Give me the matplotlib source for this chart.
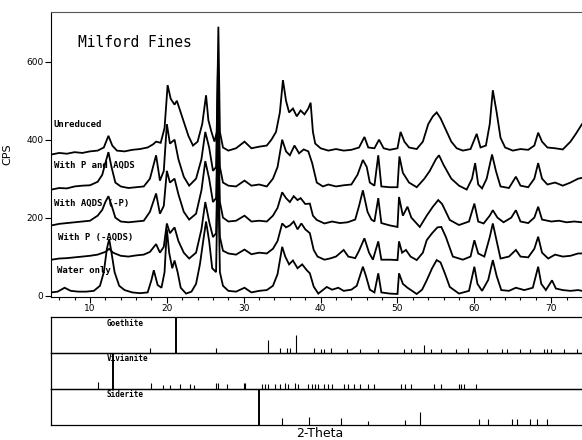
import matplotlib
matplotlib.use("Agg")
import matplotlib.pyplot as plt
from matplotlib.ticker import MultipleLocator

# ---------------- data ----------------
unreduced_x = [5.0, 6.0, 7.0, 8.0, 9.0, 10.0, 11.0, 11.8, 12.4, 12.9, 13.5, 14.5, 15.5, 16.5, 17.5, 18.2, 18.6, 19.2, 19.7, 20.1, 20.5, 21.0, 21.3, 21.8, 22.3, 22.8, 23.4, 24.0, 24.6, 25.1, 25.4, 25.8, 26.2, 26.5, 26.7, 26.9, 27.3, 28.0, 29.0, 30.1, 31.0, 32.0, 33.0, 33.6, 34.2, 34.7, 35.1, 35.5, 35.9, 36.4, 36.9, 37.4, 37.9, 38.4, 38.7, 39.0, 39.3, 40.0, 41.0, 42.0, 43.0, 44.0, 45.0, 45.7, 46.2, 47.0, 47.6, 48.2, 49.0, 50.0, 50.4, 50.9, 51.5, 52.5, 53.3, 54.0, 54.6, 55.1, 55.6, 56.3, 57.0, 57.7, 58.5, 59.5, 60.3, 60.8, 61.5, 62.0, 62.4, 62.9, 63.4, 64.0, 65.0, 66.0, 67.0, 67.8, 68.3, 68.8, 69.5, 70.5, 71.5, 72.5, 73.2, 74.0]
unreduced_y = [362, 366, 364, 368, 366, 370, 372, 380, 410, 385, 372, 370, 374, 376, 380, 388, 395, 392, 430, 540, 505, 490, 500, 470, 440, 410, 385, 395, 440, 514, 450, 420, 395, 420, 690, 420, 380, 372, 378, 395, 378, 382, 385, 400, 420, 470, 553, 500, 470, 480, 460, 475, 465, 480, 495, 420, 390, 378, 372, 376, 372, 374, 380, 407, 380, 378, 400, 378, 374, 378, 420, 395, 380, 376, 395, 440, 460, 470, 455, 425, 395, 378, 372, 376, 415, 380, 385, 440, 527, 470, 405, 380, 372, 376, 374, 385, 418, 395, 380, 378, 375, 395, 415, 440]

p_aqds_x = [5.0, 6.0, 7.0, 8.0, 9.0, 10.0, 11.0, 11.6, 12.0, 12.4, 12.8, 13.3, 14.0, 15.0, 16.0, 17.0, 17.8, 18.6, 19.1, 19.6, 20.0, 20.4, 21.0, 21.5, 22.2, 22.9, 23.8, 24.5, 25.0, 25.5, 26.0, 26.4, 26.65, 26.9, 27.3, 28.0, 29.0, 30.1, 31.0, 32.0, 33.0, 33.8, 34.4, 35.0, 35.5, 36.0, 36.6, 37.2, 37.8, 38.4, 38.9, 39.5, 40.3, 41.0, 42.0, 43.0, 44.0, 44.8, 45.5, 46.0, 46.4, 47.0, 47.5, 47.9, 49.0, 50.0, 50.25, 50.7, 51.5, 52.5, 53.5, 54.2, 55.0, 55.4, 56.0, 57.0, 58.0, 59.0, 59.7, 60.1, 60.5, 61.0, 61.6, 62.3, 62.8, 63.4, 64.5, 65.4, 66.0, 67.0, 67.8, 68.3, 68.8, 69.5, 70.5, 71.5, 72.5, 73.5, 74.0]
p_aqds_y = [272, 276, 275, 280, 282, 283, 292, 310, 340, 368, 330, 290, 280, 276, 278, 280, 300, 360, 295, 320, 440, 390, 400, 350, 305, 282, 300, 350, 420, 380, 320, 330, 600, 330, 290, 282, 280, 295, 282, 285, 280, 300, 330, 400, 370, 360, 385, 365, 375, 370, 340, 290, 280, 285, 280, 283, 285, 310, 348, 330, 290, 282, 360, 280, 278, 278, 357, 315, 290, 278, 300, 320, 350, 360, 335, 300, 282, 272, 300, 340, 285, 275, 300, 362, 320, 280, 276, 305, 282, 278, 300, 340, 300, 285, 290, 282, 290, 300, 302]

aqds_x = [5.0, 6.0, 7.0, 8.0, 9.0, 10.0, 11.0, 11.6, 12.0, 12.4, 12.8, 13.3, 14.0, 15.0, 16.0, 17.0, 17.8, 18.6, 19.1, 19.6, 20.0, 20.4, 21.0, 21.5, 22.2, 22.9, 23.8, 24.5, 25.0, 25.5, 26.0, 26.4, 26.65, 26.9, 27.3, 28.0, 29.0, 30.1, 31.0, 32.0, 33.0, 33.8, 34.4, 35.0, 35.5, 36.0, 36.5, 37.0, 37.4, 38.0, 38.6, 39.0, 39.5, 40.5, 41.5, 42.5, 43.5, 44.5, 45.0, 45.5, 46.1, 46.6, 47.0, 47.5, 47.9, 49.0, 50.0, 50.2, 50.7, 51.3, 51.8, 52.9, 53.8, 54.6, 55.3, 55.8, 56.8, 58.0, 59.3, 60.0, 60.5, 61.2, 62.0, 62.4, 63.0, 63.8, 64.8, 65.4, 66.0, 67.0, 67.8, 68.3, 68.8, 70.0, 71.0, 72.0, 73.0, 74.0]
aqds_y = [180, 184, 186, 188, 190, 192, 205, 220, 240, 255, 232, 200, 190, 188, 190, 192, 215, 262, 210, 230, 320, 290, 300, 260, 215, 195, 210, 270, 345, 300, 240, 250, 470, 240, 200, 190, 192, 205, 190, 192, 190, 205, 225, 265, 250, 240, 255, 245, 250, 235, 236, 205, 194, 185, 190, 186, 188, 195, 230, 270, 215, 195, 190, 250, 186, 180, 176, 253, 205, 228, 200, 176, 205, 228, 245, 235, 194, 181, 190, 236, 190, 185, 205, 219, 200, 188, 200, 219, 190, 186, 200, 228, 195, 190, 192, 188, 190, 188]

p_x = [5.0, 6.0, 7.0, 8.0, 9.0, 10.0, 11.0, 12.0, 12.5, 13.0, 14.0, 15.0, 16.0, 17.0, 17.8, 18.6, 19.1, 19.6, 20.0, 20.4, 21.0, 21.5, 22.2, 22.9, 23.8, 24.5, 25.0, 25.5, 26.0, 26.4, 26.65, 26.9, 27.3, 28.0, 29.0, 30.1, 31.0, 32.0, 33.0, 33.8, 34.4, 35.0, 35.5, 36.0, 36.5, 37.0, 37.5, 38.0, 38.6, 39.1, 39.6, 40.5, 41.2, 42.0, 43.0, 43.6, 44.5, 45.0, 45.7, 46.3, 46.8, 47.5, 47.9, 49.0, 50.0, 50.2, 50.6, 51.1, 51.7, 52.5, 53.3, 53.8, 54.5, 55.2, 55.7, 56.3, 57.2, 58.5, 59.5, 60.0, 60.5, 61.3, 62.0, 62.4, 62.9, 63.4, 64.5, 65.4, 66.0, 67.0, 67.8, 68.3, 68.8, 69.6, 70.5, 71.5, 72.5, 73.5, 74.0]
p_y = [92, 95, 96, 98, 100, 102, 105, 112, 120, 110, 102, 100, 103, 105, 112, 132, 110, 125, 185, 160, 175, 140, 110, 95, 110, 170, 240, 190, 150, 160, 380, 150, 115, 108, 105, 118, 106, 110, 108, 120, 140, 185, 175, 180, 190, 170, 185, 170, 160, 117, 100, 92, 95, 100, 117, 100, 96, 115, 147, 110, 92, 139, 92, 92, 91, 139, 110, 117, 100, 91, 110, 142, 160, 175, 176, 150, 100, 92, 100, 142, 108, 100, 150, 185, 140, 95, 100, 117, 100, 98, 120, 151, 110, 95, 105, 100, 102, 108, 108]

water_x = [5.0, 5.8, 6.7, 7.5, 8.5, 9.5, 10.5, 11.3, 11.8, 12.2, 12.5, 12.8, 13.2, 13.8, 14.5, 15.5, 16.5, 17.5, 18.0, 18.3, 18.8, 19.3, 19.7, 20.0, 20.3, 20.7, 21.0, 21.4, 21.8, 22.5, 23.2, 23.8, 24.3, 24.8, 25.1, 25.5, 25.9, 26.4, 26.65, 26.9, 27.3, 28.0, 29.0, 30.1, 31.0, 32.0, 33.0, 33.8, 34.4, 35.0, 35.4, 35.9, 36.4, 37.0, 37.6, 38.2, 38.6, 39.1, 39.7, 40.8, 41.5, 42.3, 43.0, 44.0, 44.7, 45.5, 45.9, 46.4, 47.0, 47.5, 47.9, 49.0, 50.0, 50.2, 50.7, 51.3, 52.5, 53.2, 53.8, 54.5, 55.1, 55.6, 56.2, 56.8, 58.0, 59.3, 60.0, 60.4, 61.0, 61.8, 62.4, 62.9, 63.5, 64.5, 65.4, 66.5, 67.6, 68.3, 68.7, 69.3, 70.1, 70.6, 71.5, 72.5, 73.5, 74.0]
water_y = [8, 10, 20, 12, 10, 10, 12, 25, 60, 120, 145, 110, 60, 25, 14, 8, 6, 8, 40, 65, 27, 20, 60, 170, 110, 70, 90, 60, 20, 5, 10, 30, 80, 150, 190, 140, 70, 60, 330, 60, 25, 12, 10, 20, 8, 12, 14, 25, 55, 125, 100, 80, 90, 70, 80, 65, 57, 23, 5, 22, 15, 20, 12, 15, 25, 74, 50, 15, 8, 57, 8, 5, 4, 57, 30, 20, 4, 15, 39, 70, 91, 85, 55, 22, 5, 12, 74, 30, 12, 40, 91, 50, 14, 12, 20, 14, 20, 74, 30, 14, 39, 18, 14, 12, 14, 12]

series_labels = ["Unreduced", "With P and AQDS", "With AQDS (-P)", "With P (-AQDS)", "Water only"]
title_text = "Milford Fines"

goethite_pos = [17.8, 21.2, 26.4, 33.2, 34.7, 35.6, 36.0, 36.8, 39.2, 40.0, 40.4, 41.3, 43.4, 45.1, 47.5, 50.8, 51.7, 53.4, 54.4, 55.6, 57.6, 59.2, 61.6, 63.6, 64.2, 66.0, 67.3, 69.0, 69.4, 70.0, 71.7, 73.4]
goethite_int = [14, 100, 14, 34, 14, 12, 14, 48, 12, 10, 10, 12, 10, 10, 10, 10, 10, 20, 10, 10, 10, 12, 10, 10, 10, 10, 10, 10, 10, 10, 10, 10]
vivianite_pos = [11.1, 13.0, 18.0, 19.5, 20.4, 21.7, 23.0, 23.5, 26.4, 26.6, 27.8, 30.0, 30.2, 32.4, 32.8, 33.2, 34.1, 34.7, 35.4, 35.7, 36.7, 37.1, 38.4, 38.9, 39.3, 39.6, 40.4, 41.0, 41.5, 43.0, 43.6, 44.3, 45.1, 46.2, 46.9, 50.4, 51.0, 51.7, 54.7, 55.6, 58.0, 58.3, 58.6, 60.2]
vivianite_int = [17, 100, 14, 10, 10, 12, 12, 10, 14, 14, 12, 14, 14, 12, 12, 12, 12, 12, 14, 12, 14, 12, 12, 12, 12, 12, 12, 12, 12, 12, 12, 12, 12, 12, 12, 12, 12, 12, 12, 12, 12, 12, 12, 12]
siderite_pos = [32.0, 35.0, 38.5, 42.6, 46.2, 51.0, 52.9, 60.6, 61.8, 64.9, 65.5, 67.2, 68.1, 69.5]
siderite_int = [100, 19, 23, 19, 12, 14, 36, 16, 16, 16, 16, 16, 16, 16]
phase_names = ["Goethite", "Vivianite", "Siderite"]

# ---------------- figure ----------------
fig = plt.figure(figsize=(5.82, 4.40), dpi=100)
W, H = 582.0, 440.0

def rect(x0, y0, x1, y1):
    return [x0 / W, 1 - y1 / H, (x1 - x0) / W, (y1 - y0) / H]

ax = fig.add_axes(rect(51, 12.3, 582, 296.7))
series = [(unreduced_x, unreduced_y), (p_aqds_x, p_aqds_y), (aqds_x, aqds_y),
          (p_x, p_y), (water_x, water_y)]
for xs, ys in series:
    ax.plot(xs, ys, color="black", lw=1.3, solid_joinstyle="miter")

ax.set_xlim(4.93, 74.0)
ax.set_ylim(-3, 727)
ax.spines["right"].set_visible(False)
ax.spines["top"].set_linewidth(0.8)
ax.spines["top"].set_color("#555555")
ax.xaxis.set_major_locator(MultipleLocator(10))
ax.xaxis.set_minor_locator(MultipleLocator(2))
ax.yaxis.set_major_locator(MultipleLocator(200))
ax.tick_params(axis="both", which="major", direction="out", length=4, width=0.8,
               labelsize=6.5, pad=1.5)
ax.tick_params(axis="x", which="minor", direction="out", length=2.5, width=0.8)
ax.set_ylabel("CPS", fontsize=8, labelpad=10)

mono = "DejaVu Sans Mono"
ax.text(8.44, 650, title_text, family=mono, fontsize=10.5, va="center", ha="left")
label_pos = [(5.3, 440), (5.3, 335), (5.3, 237), (5.85, 150), (5.7, 65)]
for (lx, ly), lab in zip(label_pos, series_labels):
    ax.text(lx, ly, lab, family=mono, fontsize=6.5, fontweight="bold",
            va="center", ha="left")

# stick panels
tops = [317, 352.5, 388.5]
bots = [352.5, 388.5, 425]
sticks = [(goethite_pos, goethite_int), (vivianite_pos, vivianite_int),
          (siderite_pos, siderite_int)]
for i, ((pos, inten), name) in enumerate(zip(sticks, phase_names)):
    a = fig.add_axes(rect(51, tops[i], 582, bots[i]))
    lws = [1.4 if v >= 99 else 0.8 for v in inten]
    a.vlines(pos, 0, inten, colors="black", linewidths=lws)
    a.set_xlim(4.93, 74.0)
    a.set_ylim(0, 100)
    a.set_xticks([])
    a.set_yticks([])
    a.spines["right"].set_visible(False)
    for s in ["left", "top", "bottom"]:
        a.spines[s].set_linewidth(0.9)
    a.text(12.2, 83, name, family=mono, fontsize=5.5, fontweight="bold",
           va="center", ha="left")
    a.patch.set_alpha(0)

fig.text(320 / W, 1 - 433 / H, "2-Theta", fontsize=9, ha="center", va="center")

fig.savefig("out.png", dpi=100)
